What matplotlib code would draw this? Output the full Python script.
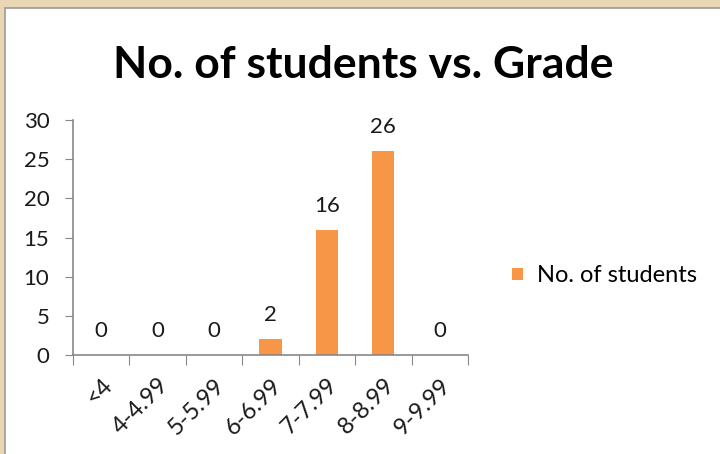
import matplotlib
matplotlib.use("Agg")
import matplotlib.pyplot as plt
from matplotlib.patches import Rectangle

grades = ["<4", "4-4.99", "5-5.99", "6-6.99", "7-7.99", "8-8.99", "9-9.99"]
students = [0, 0, 0, 2, 16, 26, 0]

plt.rcParams["font.family"] = ["Lato", "DejaVu Sans"]

fig = plt.figure(figsize=(7.2, 4.54), dpi=100)
fig.patch.set_facecolor("#e9d7b3")

# white chart panel with thin grey frame
panel = Rectangle((5 / 720, -0.01), 1.0, 1 - 8 / 454 + 0.01, transform=fig.transFigure,
                  facecolor="white", edgecolor="#9a9a9a", linewidth=1.2, zorder=-5)
fig.patches.append(panel)

ax = fig.add_axes([73 / 720, 1 - 355 / 454, (468 - 73) / 720, (355 - 120) / 454])
ax.set_facecolor("none")
ax.set_zorder(2)

x = range(len(grades))
bars = ax.bar(x, students, width=0.39, color="#f79646", label="No. of students")

for xi, v in zip(x, students):
    ax.text(xi, v + 1.8, str(v), ha="center", va="bottom", fontsize=16, color="#1a1a1a")

ax.set_xlim(-0.5, len(grades) - 0.5)
ax.set_ylim(0, 30)
ax.set_yticks(range(0, 31, 5))
ax.set_xticks([i - 0.5 for i in range(len(grades) + 1)], minor=False)
ax.set_xticklabels([""] * (len(grades) + 1))
ax.set_xticks(list(x), minor=True)
ax.set_xticklabels(grades, minor=True, rotation=45, ha="right", rotation_mode="anchor",
                   fontsize=17, color="#1a1a1a")
ax.tick_params(axis="x", which="minor", length=0, pad=14)
ax.tick_params(axis="x", which="major", length=7, color="#888888", direction="out")
ax.tick_params(axis="y", length=6, color="#888888", labelsize=16, labelcolor="#1a1a1a", pad=11)

for side in ["top", "right"]:
    ax.spines[side].set_visible(False)
for side in ["left", "bottom"]:
    ax.spines[side].set_color("#888888")
    ax.spines[side].set_linewidth(1.2)

fig.text(363 / 720, 1 - 65 / 454, "No. of students vs. Grade", ha="center", va="center",
         fontsize=32, fontweight="bold", color="black")

fig.legend(handles=[bars], labels=["No. of students"], loc="center left",
           bbox_to_anchor=(491 / 720, 1 - 276 / 454), frameon=False, fontsize=17,
           handlelength=0.45, handleheight=0.45, handletextpad=0.6)

fig.savefig("out.png", dpi=100, facecolor=fig.get_facecolor())
